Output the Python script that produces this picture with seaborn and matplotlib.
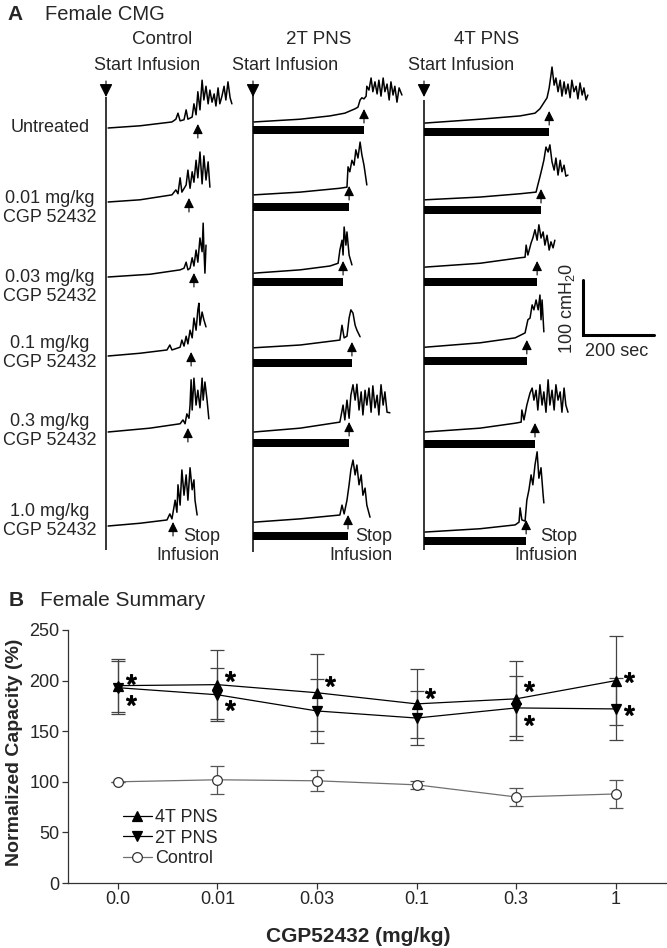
import matplotlib
matplotlib.use('Agg')
import matplotlib.pyplot as plt
import seaborn as sns

W, H = 667, 948

# ---------- panel A: CMG traces ----------
# time since start of infusion (s), pressure above the row's resting level (cmH2O)
ROW_LABELS = ['Untreated', '0.01 mg/kg\nCGP 52432', '0.03 mg/kg\nCGP 52432',
              '0.1 mg/kg\nCGP 52432', '0.3 mg/kg\nCGP 52432', '1.0 mg/kg\nCGP 52432']
GROUPS = ['Control', '2T PNS', '4T PNS']

CTRL_T = [
    [6, 96, 186, 197, 203, 209, 220, 226, 231, 243, 248, 254, 259, 265, 271, 276, 282, 288, 293, 299,
     305, 310, 316, 321, 327, 333, 338, 344, 350, 355],
    [6, 96, 186, 197, 203, 209, 214, 226, 231, 237, 243, 248, 254, 259, 265, 271, 276, 282, 288, 293],
    [6, 124, 209, 220, 226, 231, 237, 243, 248, 254, 259, 265, 271, 274, 276, 279, 282],
    [6, 96, 172, 180, 186, 209, 214, 220, 226, 231, 237, 243, 248, 254, 259, 262, 265, 271, 276, 282],
    [6, 124, 209, 217, 223, 228, 234, 237, 240, 243, 248, 254, 259, 265, 271, 274, 279, 285, 290],
    [6, 96, 172, 180, 186, 195, 200, 203, 209, 214, 220, 226, 231, 237, 243, 248, 251, 257],
]
CTRL_P = [
    [0, 4, 11, 16, 27, 13, 15, 33, 16, 20, 44, 24, 66, 33, 87, 51, 76, 44, 69, 47,
     62, 40, 73, 44, 58, 76, 51, 84, 55, 44],
    [0, 4, 13, 22, 15, 44, 18, 31, 58, 25, 55, 36, 76, 44, 91, 33, 84, 40, 73, 27],
    [0, 5, 13, 16, 27, 13, 16, 35, 20, 49, 27, 71, 46, 98, 53, 7, 58],
    [0, 5, 11, 20, 11, 16, 29, 18, 36, 22, 47, 33, 69, 47, 84, 96, 56, 80, 66, 53],
    [0, 7, 15, 22, 15, 33, 25, 49, 95, 40, 98, 49, 76, 44, 98, 58, 91, 58, 24],
    [0, 5, 11, 22, 13, 47, 25, 75, 38, 102, 56, 93, 47, 106, 66, 84, 47, 20],
]
PNS2_T = [
    [3, 133, 217, 259, 288, 296, 302, 307, 313, 319, 321, 327, 333, 338, 344, 350, 355, 361, 367, 372,
     378, 384, 389, 395, 400, 406, 412, 420],
    [3, 133, 245, 265, 268, 273, 279, 285, 290, 296, 302, 307, 313, 321],
    [3, 133, 217, 240, 245, 251, 254, 257, 262, 265, 271, 279],
    [3, 133, 245, 251, 257, 265, 271, 276, 282, 288, 293, 302],
    [3, 133, 245, 254, 259, 265, 271, 276, 282, 288, 293, 299, 305, 310, 316, 321, 327, 333, 338, 344,
     350, 355, 361, 367, 372, 378, 386],
    [3, 133, 245, 251, 257, 265, 271, 276, 282, 288, 293, 299, 305, 310, 316, 321, 330],
]
PNS2_P = [
    [11, 16, 22, 27, 35, 38, 51, 55, 53, 58, 76, 69, 91, 66, 84, 62, 87, 58, 91, 66,
     80, 51, 84, 60, 76, 47, 73, 60],
    [13, 18, 25, 27, 64, 55, 76, 67, 95, 80, 109, 86, 67, 31],
    [7, 13, 20, 25, 49, 67, 40, 91, 58, 82, 40, 22],
    [15, 20, 29, 56, 33, 36, 69, 84, 78, 56, 47, 35],
    [0, 7, 18, 49, 22, 58, 25, 67, 86, 58, 87, 40, 73, 31, 76, 49, 80, 36, 84, 44,
     67, 31, 86, 49, 73, 36, 35],
    [7, 13, 20, 38, 22, 47, 75, 102, 120, 93, 111, 75, 93, 56, 69, 38, 16],
]
PNS4_T = [
    [3, 158, 271, 313, 327, 338, 347, 353, 358, 361, 367, 372, 378, 384, 389, 395, 400, 406, 412, 417,
     423, 429, 434, 440, 446, 451, 457, 462],
    [3, 158, 271, 316, 321, 327, 333, 338, 344, 350, 355, 361, 367, 372, 378, 384, 389, 395, 400, 406],
    [3, 158, 271, 285, 288, 293, 302, 307, 313, 319, 324, 330, 336, 341, 347, 353, 358, 364, 369],
    [3, 158, 257, 285, 293, 299, 305, 310, 316, 322, 327, 330, 333, 338],
    [3, 158, 257, 274, 276, 282, 290, 299, 305, 310, 316, 321, 327, 333, 338, 344, 350, 355, 361, 367,
     372, 378, 384, 389, 395, 400, 406],
    [3, 158, 257, 268, 271, 276, 285, 290, 296, 302, 307, 313, 319, 324, 330, 336, 338],
]
PNS4_P = [
    [9, 16, 22, 27, 35, 46, 55, 73, 96, 111, 78, 91, 66, 87, 58, 84, 62, 80, 55, 87,
     66, 76, 53, 82, 60, 73, 51, 60],
    [4, 9, 15, 18, 31, 46, 62, 76, 100, 91, 104, 73, 58, 80, 49, 76, 55, 67, 47, 49],
    [18, 25, 35, 36, 58, 40, 62, 71, 86, 67, 95, 71, 82, 58, 76, 49, 64, 53, 67],
    [16, 24, 33, 42, 66, 69, 93, 84, 102, 84, 111, 66, 102, 44],
    [0, 7, 16, 18, 40, 22, 49, 71, 80, 58, 76, 40, 86, 49, 73, 36, 95, 49, 76, 40,
     86, 58, 73, 36, 80, 49, 36],
    [-11, -5, 2, 7, 33, 11, 9, 47, 66, 93, 75, 111, 135, 87, 106, 56, 42],
]
# stop of infusion (s)
STOP_CTRL = [259, 234, 248, 240, 231, 189]
STOP_PNS2 = [313, 271, 254, 279, 271, 268]
STOP_PNS4 = [353, 330, 319, 290, 313, 288]

# ---------- panel B: summary ----------
DOSE_LABELS = ['0.0', '0.01', '0.03', '0.1', '0.3', '1']
PNS4_MEAN = [195, 196, 188, 177, 182, 200]
PNS4_ERR = [26, 34, 38, 34, 37, 44]
PNS2_MEAN = [193, 186, 170, 163, 173, 172]
PNS2_ERR = [26, 26, 32, 27, 32, 31]
CTRL_MEAN = [100, 102, 101, 97, 85, 88]
CTRL_ERR = [0, 14, 10.5, 4, 9, 14]
STAR4_Y = [202, 205, 200, 188, 195, 204]
STAR2_POS = [0, 1, 4, 5]
STAR2_Y = [181, 176, 161, 171]

# ---------- layout (pixels of the 667x948 figure) ----------
SEC_PER_PX = 2.82
CM_PER_PX = 1.82
COL_X = [106, 253, 424]
ROW_Y = [128, 202, 277, 356, 432, 526]
BAR_Y = [None, [130, 207, 282, 363, 443, 536], [132, 210, 282, 361, 444, 541]]
LINE_SPAN = [(97, 550), (94, 552), (100, 550)]
A_BOTTOM = 560

sns.set_theme(style='ticks')
plt.rcParams['font.family'] = ['Liberation Sans', 'DejaVu Sans']
plt.rcParams['mathtext.default'] = 'regular'

fig = plt.figure(figsize=(W / 100, H / 100), dpi=100)


def ftext(x, y, s, **kw):
    kw.setdefault('ha', 'center')
    kw.setdefault('va', 'center')
    fig.text(x / W, 1 - y / H, s, **kw)


def xs(px):
    return px * SEC_PER_PX


def ys(px):
    return (A_BOTTOM - px) * CM_PER_PX


ax_a = fig.add_axes([0, 1 - A_BOTTOM / H, 1, A_BOTTOM / H])
ax_a.set_xlim(0, W * SEC_PER_PX)
ax_a.set_ylim(0, A_BOTTOM * CM_PER_PX)
ax_a.axis('off')

traces_t = [CTRL_T, PNS2_T, PNS4_T]
traces_p = [CTRL_P, PNS2_P, PNS4_P]
stops = [STOP_CTRL, STOP_PNS2, STOP_PNS4]
small_arrow = dict(arrowstyle='-|>,head_length=0.6,head_width=0.3', mutation_scale=10,
                   color='black', lw=0.8, shrinkA=0, shrinkB=0)
big_arrow = dict(arrowstyle='-|>,head_length=0.8,head_width=0.4', mutation_scale=10,
                 color='black', lw=0.8, shrinkA=0, shrinkB=0)

for g in range(3):
    x0 = xs(COL_X[g])
    top, bot = LINE_SPAN[g]
    ax_a.vlines(x0, ys(bot), ys(top), color='black', lw=1.1)
    ax_a.annotate('', xy=(x0, ys(97)), xytext=(x0, ys(81)), arrowprops=big_arrow)
    for r in range(6):
        t = [x0 + v for v in traces_t[g][r]]
        p = [ys(ROW_Y[r]) + v for v in traces_p[g][r]]
        ax_a.plot(t, p, color='black', lw=1.1)
        stop = x0 + stops[g][r]
        if BAR_Y[g] is not None:
            ax_a.barh(ys(BAR_Y[g][r]), stops[g][r], left=x0, height=8 * CM_PER_PX,
                      color='black', lw=0)
            tip = BAR_Y[g][r] - 21
        else:
            tip = ROW_Y[r] - 4
        ax_a.annotate('', xy=(stop, ys(tip)), xytext=(stop, ys(tip + 14)), arrowprops=small_arrow)

# scale bar: 100 cmH2O by 200 sec
sx, sy = xs(583), ys(335)
ax_a.plot([sx, sx, sx + 200], [sy + 100, sy, sy], color='black', lw=2.2, solid_joinstyle='miter')

FS_A = 13
ftext(7, 15, 'A', fontsize=15, fontweight='bold', ha='left')
ftext(45, 15, 'Female CMG', fontsize=14.5, ha='left')
for name, cx in zip(GROUPS, [162, 319, 487]):
    ftext(cx, 40, name, fontsize=13.5)
for cx in [147, 285, 461]:
    ftext(cx, 66, 'Start Infusion', fontsize=FS_A)
for lab, cy in zip(ROW_LABELS, [127, 208, 287, 353, 431, 521]):
    ftext(50, cy, lab, fontsize=FS_A, linespacing=1.1)
for rx in [220, 392, 577]:
    ftext(rx, 546, 'Stop\nInfusion', fontsize=FS_A, ha='right', multialignment='right')
ftext(567, 308, '100 cmH$_2$0', fontsize=FS_A, rotation=90)
ftext(617, 352, '200 sec', fontsize=FS_A)

# ---------- panel B ----------
ax_b = fig.add_axes([68 / W, (H - 883) / H, (W - 68) / W - 0.002, 253 / H])
pos = list(range(len(DOSE_LABELS)))
series = [
    ('4T PNS', PNS4_MEAN, PNS4_ERR, '^', 'black', 'black', '#444444'),
    ('2T PNS', PNS2_MEAN, PNS2_ERR, 'v', 'black', 'black', '#444444'),
    ('Control', CTRL_MEAN, CTRL_ERR, 'o', '#707070', 'white', '#555555'),
]
for label, mean, err, mk, col, mfc, ecol in series:
    ax_b.errorbar(pos, mean, yerr=err, fmt='none', ecolor=ecol, elinewidth=0.9,
                  capsize=5, capthick=0.9, zorder=2, label='_nolegend_')
    sns.lineplot(x=pos, y=mean, ax=ax_b, color=col, lw=0.9, marker=mk, markersize=7,
                 markerfacecolor=mfc, markeredgecolor='#333333' if mfc == 'white' else col,
                 markeredgewidth=0.9, label=label, zorder=3)

ax_b.plot([p + 0.13 for p in pos], STAR4_Y, ls='none', marker='$*$', ms=7, color='black')
ax_b.plot([p + 0.13 for p in STAR2_POS], STAR2_Y, ls='none', marker='$*$', ms=7, color='black')

ax_b.set_xlim(-0.5, 5.5)
ax_b.set_ylim(0, 250)
ax_b.set_xticks(pos, DOSE_LABELS)
ax_b.set_yticks([0, 50, 100, 150, 200, 250])
ax_b.tick_params(labelsize=13, length=4, width=0.9, color='#333333', pad=2)
for s in ['left', 'bottom']:
    ax_b.spines[s].set_color('#333333')
    ax_b.spines[s].set_linewidth(0.9)
sns.despine(ax=ax_b)
ax_b.set_xlabel('')
ax_b.set_ylabel('')

handles, labels = ax_b.get_legend_handles_labels()
ax_b.legend(handles, labels, loc='upper left',
            bbox_to_anchor=((123 - 68) / (W - 68), (883 - 809) / 253),
            frameon=False, fontsize=13, handlelength=1.6,
            handletextpad=0.2, labelspacing=0.2, borderpad=0, borderaxespad=0)

ftext(9, 600, 'B', fontsize=15, fontweight='bold', ha='left')
ftext(40, 600, 'Female Summary', fontsize=15, ha='left')
ftext(15, 752, 'Normalized Capacity (%)', fontsize=14, fontweight='bold', rotation=90)
ftext(358, 937, 'CGP52432 (mg/kg)', fontsize=15, fontweight='bold')

fig.savefig('out.png', dpi=100)
